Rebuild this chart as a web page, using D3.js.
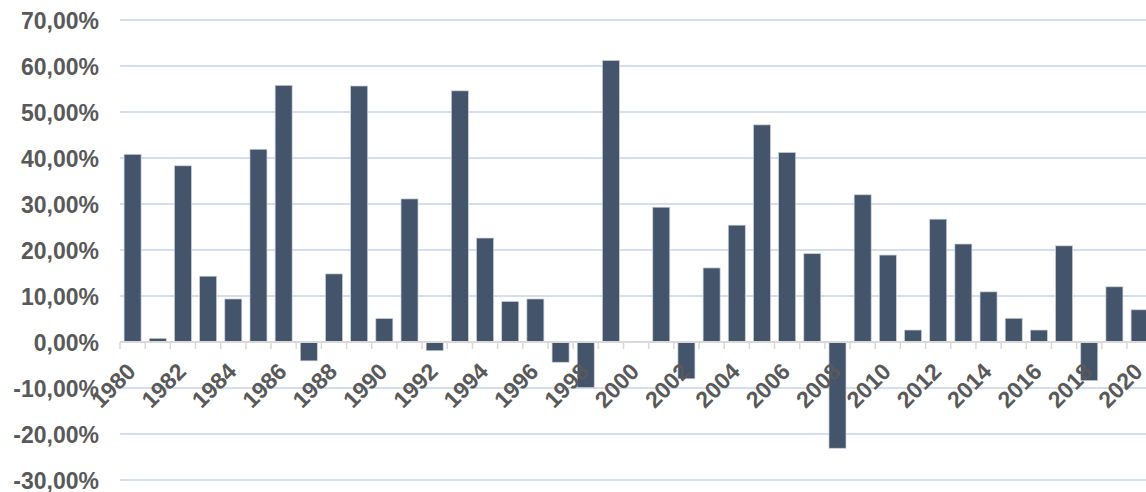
<!DOCTYPE html>
<html>
<head>
<meta charset="utf-8">
<script src="https://cdn.jsdelivr.net/npm/d3@7"></script>
<style>
  html, body { margin: 0; padding: 0; background: #ffffff; }
  svg { display: block; }
  text { font-family: "Liberation Sans", Arial, sans-serif; font-weight: bold; fill: #595959; }
</style>
</head>
<body>
<svg id="chart" width="1146" height="492"></svg>
<script>
// Annual returns, 1980–2020
const years = d3.range(1980, 2021);
const returns = [
  40.8, 0.8, 38.3, 14.3, 9.35, 41.9, 55.8, -4.1, 14.8, 55.65,
  5.1, 31.1, -1.9, 54.6, 22.6, 8.8, 9.35, -4.4, -9.9, 61.2,
  0.0, 29.3, -8.0, 16.1, 25.4, 47.2, 41.2, 19.2, -23.1, 32.0,
  18.9, 2.6, 26.7, 21.3, 10.9, 5.15, 2.6, 20.9, -8.4, 12.0,
  7.0
];
const yTicks = [-30, -20, -10, 0, 10, 20, 30, 40, 50, 60, 70];
const xLabelYears = years.filter(y => y % 2 === 0);

const data = years.map((year, i) => ({ year, value: returns[i] }));

const W = 1146, H = 492;
const left = 120;
const step = 25.175;
const svg = d3.select("#chart");

const x = d3.scaleBand()
  .domain(years)
  .range([left, left + years.length * step])
  .paddingInner(0.325)
  .paddingOuter(0.1625);

const y = d3.scaleLinear()
  .domain([-30, 70])
  .range([480, 20]);

const locale = d3.formatLocale({
  decimal: ",", thousands: ".", grouping: [3], currency: ["", "€"], minus: "-"
});
const pct = locale.format(".2f");

// horizontal gridlines
svg.append("g")
  .selectAll("line")
  .data(yTicks.filter(t => t !== 0))
  .join("line")
  .attr("x1", left)
  .attr("x2", W)
  .attr("y1", d => y(d))
  .attr("y2", d => y(d))
  .attr("stroke", "#d3def0")
  .attr("stroke-width", 1.8);

// y axis labels
const yAxis = d3.axisLeft(y)
  .tickValues(yTicks)
  .tickSize(0)
  .tickPadding(0)
  .tickFormat(d => pct(d) + "%");

svg.append("g")
  .attr("transform", "translate(99,0)")
  .call(yAxis)
  .call(g => g.select(".domain").remove())
  .call(g => g.selectAll("text")
    .attr("font-size", 23)
    .attr("font-family", "Liberation Sans, Arial, sans-serif")
    .attr("font-weight", "bold")
    .attr("fill", "#595959")
    .attr("dy", "0.36em"));

// bars
svg.append("g")
  .selectAll("rect")
  .data(data)
  .join("rect")
  .attr("x", d => x(d.year))
  .attr("width", x.bandwidth())
  .attr("y", d => y(Math.max(0, d.value)))
  .attr("height", d => Math.abs(y(d.value) - y(0)))
  .attr("fill", "#44546a")
  .attr("stroke", "#c8cfd9")
  .attr("stroke-width", 0.7);

// zero baseline with category boundary ticks
const zeroY = y(0);
svg.append("line")
  .attr("x1", left)
  .attr("x2", W)
  .attr("y1", zeroY)
  .attr("y2", zeroY)
  .attr("stroke", "#d9d9d9")
  .attr("stroke-width", 2);

const boundaries = years.map(yr => x(yr) - x.step() * x.paddingInner() / 2)
  .concat([x(years[years.length - 1]) + x.bandwidth() + x.step() * x.paddingInner() / 2]);

svg.append("g")
  .selectAll("line")
  .data(boundaries)
  .join("line")
  .attr("x1", d => d)
  .attr("x2", d => d)
  .attr("y1", zeroY)
  .attr("y2", zeroY + 7)
  .attr("stroke", "#d9d9d9")
  .attr("stroke-width", 1.5);

// rotated year labels
svg.append("g")
  .selectAll("text")
  .data(xLabelYears)
  .join("text")
  .attr("transform", d => `translate(${x(d) + x.bandwidth() / 2 + 4.5},${zeroY + 31}) rotate(-45)`)
  .attr("text-anchor", "end")
  .attr("font-size", 23)
  .text(d => d);
</script>
</body>
</html>
